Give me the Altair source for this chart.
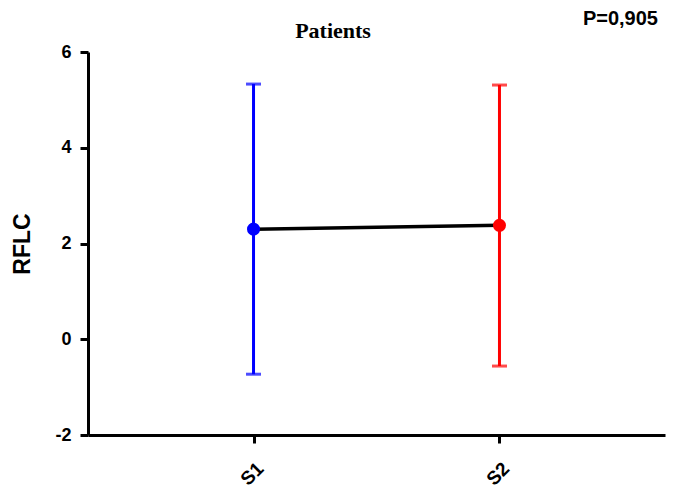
import altair as alt
import pandas as pd

groups = ["S1", "S2"]
means = [2.30, 2.38]
lows = [-0.73, -0.56]
highs = [5.33, 5.31]
colors = ["#0000ff", "#ff0000"]

df = pd.DataFrame({"group": groups, "mean": means, "lo": lows, "hi": highs, "color": colors})

xenc = alt.X("group:N", scale=alt.Scale(type="point", padding=0.673), sort=groups,
             axis=alt.Axis(title=None, labelAngle=315, labelFont="Liberation Sans", labelFontSize=19,
                           labelFontWeight="bold", labelColor="black", domainColor="black",
                           domainWidth=3, tickColor="black", tickWidth=3, tickSize=8, labelPadding=16))
yscale = alt.Scale(domain=[-2, 6], nice=False, zero=False)
yaxis = alt.Axis(title="RFLC", values=[-2, 0, 2, 4, 6], grid=False, titleFont="Liberation Sans",
                 titleFontSize=23, titleFontWeight="bold", titleColor="black", titlePadding=20,
                 labelExpr="'' + datum.value",
                 labelFont="Liberation Sans", labelFontSize=18, labelFontWeight="bold",
                 labelColor="black", domainColor="black", domainWidth=3, tickColor="black",
                 tickWidth=3, tickSize=8, labelPadding=9)

base = alt.Chart(df)
rules = base.mark_rule(strokeWidth=3).encode(
    x=xenc, y=alt.Y("lo:Q", scale=yscale, axis=yaxis), y2="hi:Q",
    color=alt.Color("color:N", scale=None))
caps_hi = base.mark_tick(thickness=3, size=15, orient="horizontal").encode(
    x=xenc, y=alt.Y("hi:Q", scale=yscale), color=alt.Color("color:N", scale=None))
caps_lo = base.mark_tick(thickness=3, size=15, orient="horizontal").encode(
    x=xenc, y=alt.Y("lo:Q", scale=yscale), color=alt.Color("color:N", scale=None))
line = base.mark_line(color="black", strokeWidth=3.5).encode(
    x=xenc, y=alt.Y("mean:Q", scale=yscale))
points = base.mark_point(filled=True, opacity=1, size=170, shape="circle").encode(
    x=xenc, y=alt.Y("mean:Q", scale=yscale), color=alt.Color("color:N", scale=None))
ptext = alt.Chart(pd.DataFrame({"t": ["P=0,905"]})).mark_text(
    font="Liberation Sans", fontSize=20, fontWeight="bold", align="right", baseline="middle",
    color="black").encode(text="t:N", x=alt.value(570), y=alt.value(-33))
ttext = alt.Chart(pd.DataFrame({"t": ["Patients"]})).mark_text(
    font="Liberation Serif", fontSize=22, fontWeight="bold", align="center", baseline="middle",
    color="black").encode(text="t:N", x=alt.value(245), y=alt.value(-21))

chart = alt.layer(rules, caps_hi, caps_lo, line, points, ptext, ttext).properties(
    width=577, height=383,
    autosize=alt.AutoSizeParams(type="none"),
    padding={"left": 80, "top": 44, "right": 3, "bottom": 54},
).configure_view(stroke=None)

chart.save("out.html", embed_options={"renderer": "svg", "actions": False})
